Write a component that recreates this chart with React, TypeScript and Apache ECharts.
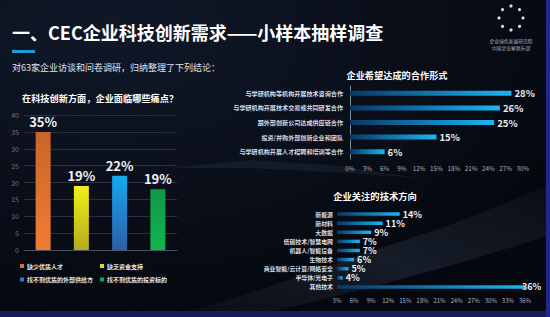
import React, { useEffect, useRef } from 'react';
import * as echarts from 'echarts';

const FONT = '"Noto Sans CJK SC", "Noto Sans", sans-serif';

const painCategories = ['缺少优质人才', '缺乏资金支持', '找不到优质的外部供给方', '找不到优质的投资标的'];
const painValues = [35, 19, 22, 18];
const painLabels = ['35%', '19%', '22%', '19%'];
const painMin = 0;
const painMax = 40;
const painStep = 5;

const coopCategories = [
  '与学研机构等机构开展技术咨询合作',
  '与学研机构开展技术交易或共同研发合作',
  '跟外部创新公司达成供应链合作',
  '投资/并购外部创新企业和团队',
  '与学研机构开展人才招聘和培训等合作',
];
const coopValues = [28, 26, 25, 15, 6];
const coopMin = 0;
const coopMax = 30;
const coopStep = 3;

const techCategories = [
  '新能源',
  '新材料',
  '大数据',
  '低碳技术/智慧电网',
  '机器人/智能设备',
  '生物技术',
  '商业智能/云计算/网络安全',
  '半导体/光电子',
  '其他技术',
];
const techValues = [14, 11, 9, 7, 7, 6, 5, 4, 36];
const techMin = 3;
const techMax = 36;
const techStep = 3;

const painGradients: [string, string][] = [
  ['#c9652b', '#f27c33'],
  ['#f2f01a', '#b3ab1c'],
  ['#14aaf2', '#2f5ea6'],
  ['#0f9a45', '#12b352'],
];
const painLegendColors = ['#e26a2a', '#d9e022', '#1a82d2', '#12a452'];

const hGrad = () =>
  new echarts.graphic.LinearGradient(0, 0, 1, 0, [
    { offset: 0, color: '#0a3766' },
    { offset: 1, color: '#1ab6f6' },
  ]);

export default function App() {
  const ref = useRef<HTMLDivElement>(null);

  useEffect(() => {
    if (!ref.current) return;
    const chart = echarts.init(ref.current, undefined, { renderer: 'svg' });

    const painSeries = painCategories.map((name, i) => ({
      type: 'bar',
      name,
      xAxisIndex: 0,
      yAxisIndex: 0,
      barWidth: 15,
      barGap: '-100%',
      data: painValues.map((v, j) => (j === i ? v : '-')),
      itemStyle: {
        color: new echarts.graphic.LinearGradient(0, 0, 0, 1, [
          { offset: 0, color: painGradients[i][0] },
          { offset: 1, color: painGradients[i][1] },
        ]),
      },
      label: {
        show: true,
        position: 'top',
        distance: 4,
        formatter: (p: any) => painLabels[p.dataIndex],
        color: '#f2f2f2',
        fontSize: 13,
        fontWeight: 'bold',
        fontFamily: FONT,
      },
    }));

    const legendPos = [
      [20, 263],
      [100, 263],
      [20, 276.5],
      [100, 276.5],
    ];

    const lastTech = techValues.length - 1;
    const techData = techValues.map((v, i) =>
      i === lastTech ? { value: v, label: { distance: -3 } } : v
    );

    const option: any = {
      animation: false,
      backgroundColor: '#070b17',
      textStyle: { fontFamily: FONT },
      grid: [
        { left: 24, top: 115, width: 153, height: 135 },
        { left: 350, top: 86, width: 173, height: 73 },
        { left: 337, top: 209.5, width: 188, height: 82 },
      ],
      xAxis: [
        {
          gridIndex: 0,
          type: 'category',
          data: painCategories,
          axisLine: { show: true, lineStyle: { color: '#4a5262' } },
          axisTick: { show: false },
          axisLabel: { show: false },
        },
        {
          gridIndex: 1,
          type: 'value',
          min: coopMin,
          max: coopMax,
          interval: coopStep,
          axisLine: { show: false },
          axisTick: { show: false },
          splitLine: { show: false },
          axisLabel: { color: '#aab2be', fontSize: 6.3, margin: 6, formatter: '{value}%' },
        },
        {
          gridIndex: 2,
          type: 'value',
          min: techMin,
          max: techMax,
          interval: techStep,
          axisLine: { show: false },
          axisTick: { show: false },
          splitLine: { show: false },
          axisLabel: { color: '#aab2be', fontSize: 6, margin: 6, formatter: '{value}%' },
        },
      ],
      yAxis: [
        {
          gridIndex: 0,
          type: 'value',
          min: painMin,
          max: painMax,
          interval: painStep,
          axisLine: { show: false },
          axisTick: { show: false },
          splitLine: { lineStyle: { color: '#283142', width: 1 } },
          axisLabel: { color: '#6b7384', fontSize: 7, margin: 5 },
        },
        {
          gridIndex: 1,
          type: 'category',
          inverse: true,
          data: coopCategories,
          axisLine: { show: true, lineStyle: { color: '#7d8a9c' } },
          axisTick: { show: false },
          axisLabel: { color: '#d6dbe3', fontSize: 6.1, margin: 7, fontWeight: 'bold' },
        },
        {
          gridIndex: 2,
          type: 'category',
          inverse: true,
          data: techCategories,
          axisLine: { show: false },
          axisTick: { show: false },
          axisLabel: { color: '#d6dbe3', fontSize: 5.9, margin: 4, fontWeight: 'bold' },
        },
      ],
      legend: painCategories.map((name, i) => ({
        data: [{ name, itemStyle: { color: painLegendColors[i] } }],
        left: legendPos[i][0],
        top: legendPos[i][1],
        padding: 0,
        icon: 'rect',
        itemWidth: 4,
        itemHeight: 4,
        itemGap: 2,
        selectedMode: false,
        textStyle: { color: '#e4e6ea', fontSize: 6, fontFamily: FONT, fontWeight: 'bold', padding: [0, 0, 0, -2] },
      })),
      series: [
        ...painSeries,
        {
          type: 'bar',
          name: 'coop',
          xAxisIndex: 1,
          yAxisIndex: 1,
          barWidth: 5,
          data: coopValues,
          itemStyle: { color: hGrad() },
          label: {
            show: true,
            position: 'right',
            distance: 3,
            formatter: '{c}%',
            color: '#e6e9ee',
            fontSize: 9.5,
            fontWeight: 'bold',
            fontFamily: FONT,
          },
        },
        {
          type: 'bar',
          name: 'tech',
          xAxisIndex: 2,
          yAxisIndex: 2,
          barWidth: 3.5,
          data: techData,
          itemStyle: { color: hGrad() },
          label: {
            show: true,
            position: 'right',
            distance: 3,
            formatter: '{c}%',
            color: '#eceff3',
            fontSize: 9,
            lineHeight: 9,
            fontWeight: 'bold',
            fontFamily: FONT,
          },
        },
      ],
      graphic: [
        {
          type: 'rect',
          z: -10,
          silent: true,
          shape: { x: 0, y: 0, width: 550, height: 317 },
          style: {
            fill: new echarts.graphic.RadialGradient(0.2, 0.1, 0.9, [
              { offset: 0, color: '#101828' },
              { offset: 1, color: '#05080f' },
            ]),
          },
        },
        {
          type: 'polygon',
          z: -9,
          silent: true,
          shape: {
            points: [
              [170, 317], [260, 290], [360, 255], [450, 225], [550, 185],
              [550, 235], [470, 260], [380, 285], [300, 305], [250, 317],
            ],
          },
          style: {
            fill: new echarts.graphic.LinearGradient(0, 1, 1, 0, [
              { offset: 0, color: 'rgba(90,110,140,0.05)' },
              { offset: 0.5, color: 'rgba(110,135,170,0.16)' },
              { offset: 1, color: 'rgba(90,110,140,0.06)' },
            ]),
          },
        },
        {
          type: 'polygon',
          z: -9,
          silent: true,
          shape: {
            points: [
              [170, 168], [250, 160], [330, 165], [420, 178], [330, 172], [250, 168],
            ],
          },
          style: { fill: 'rgba(100,125,160,0.12)' },
        },
        {
          type: 'rect',
          z: -8,
          silent: true,
          shape: { x: 0, y: 311, width: 550, height: 6 },
          style: { fill: '#1a1c58' },
        },
        {
          type: 'rect',
          z: -8,
          silent: true,
          shape: { x: 546, y: 0, width: 4, height: 317 },
          style: { fill: '#1c2a90' },
        },
        {
          type: 'text',
          x: 12,
          y: 32,
          style: {
            text: '一、CEC企业科技创新需求——小样本抽样调查',
            fill: '#ffffff',
            font: `bold 18px ${FONT}`,
            textVerticalAlign: 'middle',
          },
        },
        {
          type: 'rect',
          shape: { x: 12, y: 50, width: 23, height: 3 },
          style: { fill: '#1e9be0' },
        },
        {
          type: 'text',
          x: 12,
          y: 67.5,
          style: {
            text: '对63家企业访谈和问卷调研，归纳整理了下列结论：',
            fill: '#e2e4e8',
            font: `9px ${FONT}`,
            textVerticalAlign: 'middle',
          },
        },
        {
          type: 'text',
          x: 22,
          y: 98,
          style: {
            text: '在科技创新方面，企业面临哪些痛点？',
            fill: '#ffffff',
            font: `bold 9.2px ${FONT}`,
            textVerticalAlign: 'middle',
          },
        },
        {
          type: 'text',
          x: 397,
          y: 75,
          style: {
            text: '企业希望达成的合作形式',
            fill: '#ffffff',
            font: `bold 9.2px ${FONT}`,
            textAlign: 'center',
            textVerticalAlign: 'middle',
          },
        },
        {
          type: 'text',
          x: 375,
          y: 196,
          style: {
            text: '企业关注的技术方向',
            fill: '#ffffff',
            font: `bold 9.3px ${FONT}`,
            textAlign: 'center',
            textVerticalAlign: 'middle',
          },
        },
        ...[0, 1, 2, 3, 4, 5, 6, 7].map((k) => {
          const a = (k * Math.PI) / 4 - Math.PI / 2;
          return {
            type: 'circle',
            shape: { cx: 511 + 12 * Math.cos(a), cy: 18 + 12 * Math.sin(a), r: 1.6 },
            style: { fill: '#d8dce4' },
          };
        }),
        {
          type: 'text',
          x: 511,
          y: 40,
          style: {
            text: '企业绿色发展研究院',
            fill: '#aeb4c0',
            font: `4.8px ${FONT}`,
            textAlign: 'center',
            textVerticalAlign: 'middle',
          },
        },
        {
          type: 'text',
          x: 511,
          y: 47,
          style: {
            text: '中国企业家俱乐部',
            fill: '#aeb4c0',
            font: `4.8px ${FONT}`,
            textAlign: 'center',
            textVerticalAlign: 'middle',
          },
        },
      ],
    };

    chart.setOption(option);
    return () => chart.dispose();
  }, []);

  return (
    <div
      ref={ref}
      style={{ position: 'absolute', left: 0, top: 0, width: 550, height: 317 }}
    />
  );
}
